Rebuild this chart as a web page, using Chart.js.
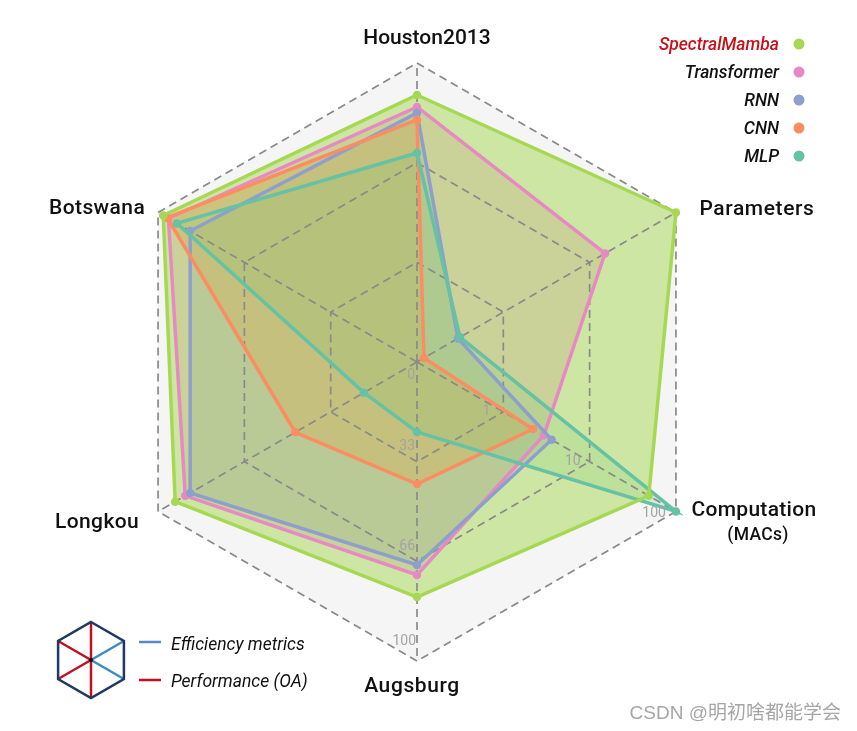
<!DOCTYPE html>
<html>
<head>
<meta charset="utf-8">
<title>Radar</title>
<script src="https://cdn.jsdelivr.net/npm/chart.js@4/dist/chart.umd.min.js"></script>
<style>
html,body{margin:0;padding:0;background:#fff;}
#wrap{position:relative;width:857px;height:731px;}
</style>
</head>
<body>
<div id="wrap"><canvas id="radarChart" width="857" height="731"></canvas></div>
<script>
const categories = ["Houston2013","Parameters","Computation","Augsburg","Longkou","Botswana"];

const spectralMamba = [89.3,100,89.5,78.6,93.4,98];
const transformer = [85.3,72.6,49,71.2,89.5,96];
const rnn = [83.3,15.8,52,67.9,87.6,87.6];
const cnn = [81,2.7,44.8,40.8,47,96.5];
const mlp = [69.9,16.6,100,23.4,20.5,92.7];

const seriesNames = ["SpectralMamba","Transformer","RNN","CNN","MLP"];
const seriesColors = ["#a6d854","#e78ac3","#8da0cb","#fc8d62","#66c2a5"];

const leftTicks = ["0","33","66","100"];
const leftTickValues = [0,33.33,66.67,100];
const rightTicks = ["1","10","100"];
const rightTickValues = [33.33,66.67,100];

function dataset(name,values,color,alpha){
    return {
        label:name,
        data:values,
        borderColor:color,
        backgroundColor:color+alpha,
        borderWidth:3.5,
        pointRadius:2.5,
        pointBackgroundColor:color,
        pointBorderColor:color,
        fill:true,
        tension:0
    };
}

const textFont = "Roboto, sans-serif";

// grey hexagon goes behind the fills that the filler plugin has already painted
const hexBackground = {
    id:"hexBackground",
    beforeDraw(chart){
        const ctx = chart.ctx;
        const r = chart.scales.r;
        ctx.save();
        ctx.globalCompositeOperation = "destination-over";
        ctx.fillStyle = "#f5f5f5";
        ctx.beginPath();
        categories.forEach((name,i)=>{
            const p = r.getPointPosition(i,r.getDistanceFromCenterForValue(100));
            if(i===0) ctx.moveTo(p.x,p.y); else ctx.lineTo(p.x,p.y);
        });
        ctx.closePath();
        ctx.fill();
        ctx.restore();
    }
};

// axis names, ring numbers, legends and the little hexagon
const decorations = {
    id:"decorations",
    afterDraw(chart){
        const ctx = chart.ctx;
        const r = chart.scales.r;
        ctx.save();
        ctx.textBaseline = "middle";

        // axis names
        ctx.fillStyle = "#111";
        ctx.font = "500 21px "+textFont;
        ctx.textAlign = "center";
        const nameOffsets = [[10,-24],[81,-3],[78,-1],[-5,26],[-61,11],[-61,-4]];
        const nameSpacing = ["0px","0.6px","0.3px","0.6px","0.4px","0.4px"];
        categories.forEach((name,i)=>{
            const p = r.getPointPosition(i,r.getDistanceFromCenterForValue(100));
            ctx.letterSpacing = nameSpacing[i];
            ctx.fillText(name,p.x+nameOffsets[i][0],p.y+nameOffsets[i][1]);
            if(i===2){
                ctx.font = "500 17.5px "+textFont;
                ctx.fillText("(MACs)",p.x+82,p.y+24);
                ctx.font = "500 21px "+textFont;
            }
        });
        ctx.letterSpacing = "0px";

        // ring numbers on two axes
        ctx.fillStyle = "#a3a3a3";
        ctx.font = "14px "+textFont;
        ctx.textAlign = "right";
        const leftOffsets = [[-2,13],[-2,-15],[-2,-15],[-1,-20]];
        leftTicks.forEach((t,i)=>{
            const p = r.getPointPosition(3,r.getDistanceFromCenterForValue(leftTickValues[i]));
            ctx.fillText(t,p.x+leftOffsets[i][0],p.y+leftOffsets[i][1]);
        });
        const rightOffsets = [[-13,0],[-9,0],[-10,2]];
        rightTicks.forEach((t,i)=>{
            const p = r.getPointPosition(2,r.getDistanceFromCenterForValue(rightTickValues[i]));
            ctx.fillText(t,p.x+rightOffsets[i][0],p.y+rightOffsets[i][1]);
        });

        // method legend, top right
        ctx.font = "italic 500 17.5px "+textFont;
        seriesNames.forEach((name,i)=>{
            const y = 44+i*28;
            ctx.fillStyle = i===0 ? "#c8101a" : "#111";
            ctx.fillText(name,779,y+2);
            ctx.fillStyle = seriesColors[i];
            ctx.beginPath();
            ctx.arc(799,y,5.5,0,Math.PI*2);
            ctx.fill();
        });

        // hexagon icon, bottom left
        const cx = 91, cy = 660, rad = 38;
        const corner = k=>{
            const a = -Math.PI/2+k*Math.PI/3;
            return [cx+rad*Math.cos(a),cy+rad*Math.sin(a)];
        };
        const spokeColors = ["#c00f1e","#3f8bc0","#3f8bc0","#c00f1e","#c00f1e","#c00f1e"];
        ctx.lineWidth = 2.5;
        for(let k=0;k<6;k++){
            const c = corner(k);
            ctx.strokeStyle = spokeColors[k];
            ctx.beginPath();
            ctx.moveTo(cx,cy);
            ctx.lineTo(c[0],c[1]);
            ctx.stroke();
        }
        ctx.strokeStyle = "#1f3864";
        ctx.beginPath();
        for(let k=0;k<6;k++){
            const c = corner(k);
            if(k===0) ctx.moveTo(c[0],c[1]); else ctx.lineTo(c[0],c[1]);
        }
        ctx.closePath();
        ctx.stroke();
        ctx.fillStyle = "#111";
        ctx.beginPath();
        ctx.arc(cx,cy,2,0,Math.PI*2);
        ctx.fill();

        // metric legend
        ctx.textAlign = "left";
        ctx.lineWidth = 2.5;
        ctx.strokeStyle = "#5b86c8";
        ctx.beginPath(); ctx.moveTo(139,642); ctx.lineTo(161,642); ctx.stroke();
        ctx.strokeStyle = "#c00f1e";
        ctx.beginPath(); ctx.moveTo(139,680); ctx.lineTo(161,680); ctx.stroke();
        ctx.fillStyle = "#111";
        ctx.font = "italic 17.5px "+textFont;
        ctx.fillText("Efficiency metrics",171,646);
        ctx.fillText("Performance (OA)",171,683);

        // watermark
        ctx.fillStyle = "#a6a6a6";
        ctx.font = "19px 'Liberation Sans','Noto Sans CJK SC',sans-serif";
        ctx.textAlign = "right";
        ctx.fillText("CSDN @明初啥都能学会",841,714);
        ctx.restore();
    }
};

new Chart(document.getElementById("radarChart"),{
    type:"radar",
    data:{
        labels:categories,
        datasets:[
            dataset("SpectralMamba",spectralMamba,seriesColors[0],"80"),
            dataset("MLP",mlp,seriesColors[4],"38"),
            dataset("CNN",cnn,seriesColors[3],"70"),
            dataset("RNN",rnn,seriesColors[2],"55"),
            dataset("Transformer",transformer,seriesColors[1],"60")
        ]
    },
    options:{
        responsive:false,
        animation:false,
        layout:{padding:{left:118,right:141,top:63,bottom:70}},
        plugins:{
            legend:{display:false},
            tooltip:{enabled:false},
            filler:{drawTime:"beforeDraw"}
        },
        scales:{
            r:{
                min:0,
                max:100,
                ticks:{display:false,count:4},
                pointLabels:{display:false},
                grid:{color:"#8a8a8a",lineWidth:1.7},
                border:{dash:[8,5]},
                angleLines:{color:"#8a8a8a",lineWidth:1.7,borderDash:[8,5]}
            }
        }
    },
    plugins:[hexBackground,decorations]
});
</script>
</body>
</html>
